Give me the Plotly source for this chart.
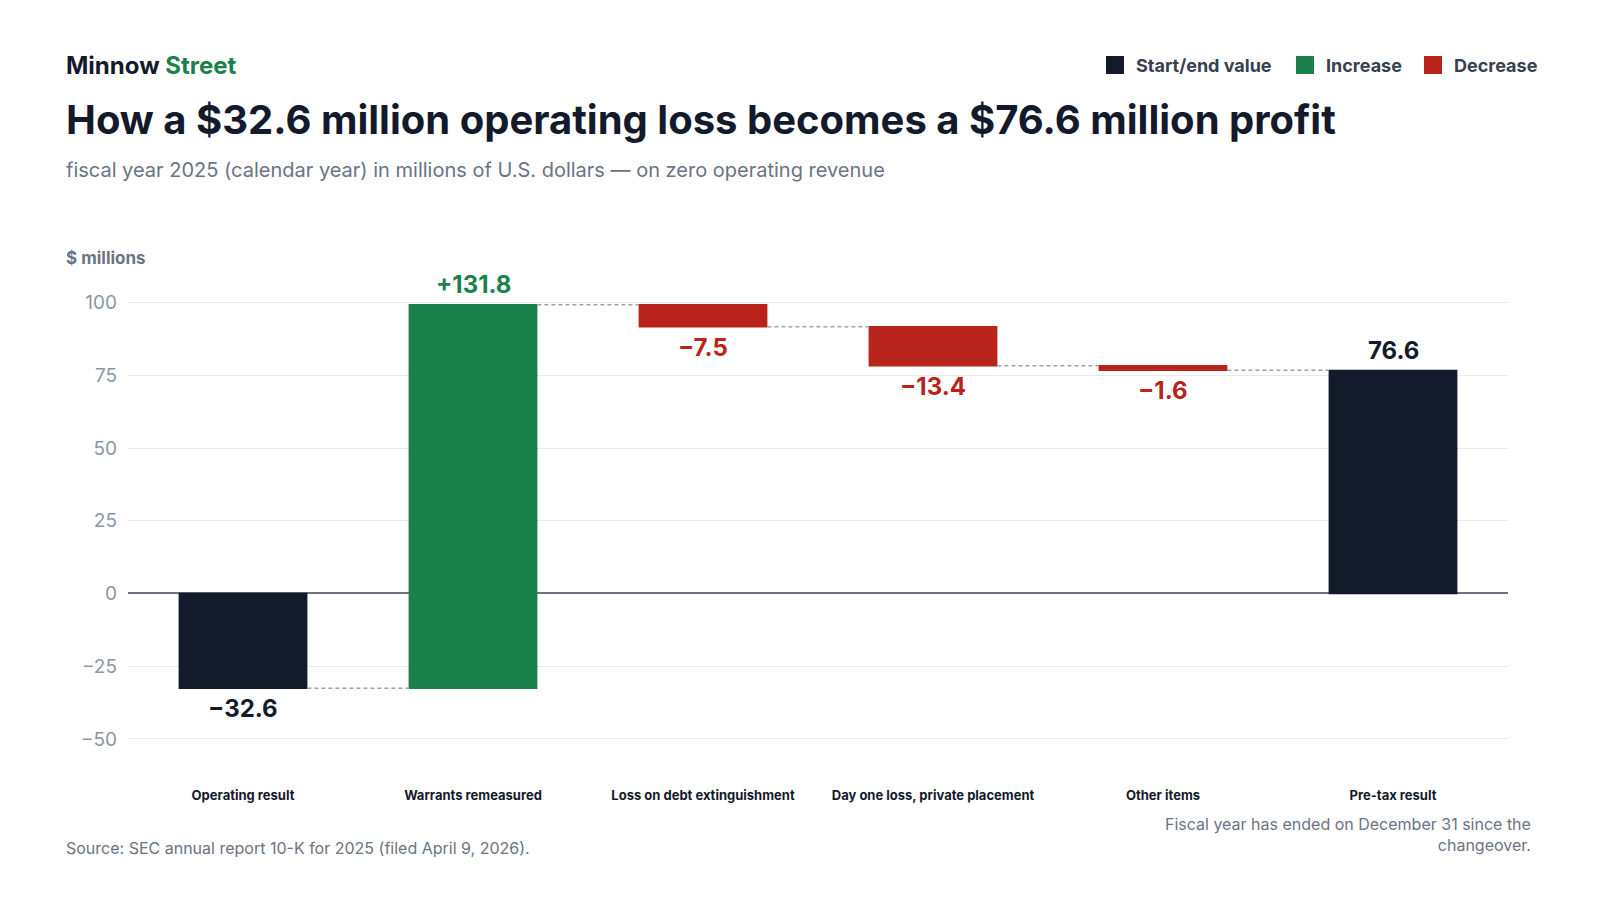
import plotly.graph_objects as go

categories = ["Operating result", "Warrants remeasured", "Loss on debt extinguishment",
              "Day one loss, private placement", "Other items", "Pre-tax result"]
values = [-32.6, 131.8, -7.5, -13.4, -1.6, 76.6]
measures = ["absolute", "relative", "relative", "relative", "relative", "absolute"]
labels = ["\u221232.6", "+131.8", "\u22127.5", "\u221213.4", "\u22121.6", "76.6"]

DARK, GREEN, RED = "#131a2b", "#1b804a", "#b8241c"
F = "Inter"

fig = go.Figure(go.Waterfall(
    x=categories, y=values, measure=measures, width=0.56,
    totals=dict(marker=dict(color=DARK)),
    increasing=dict(marker=dict(color=GREEN)),
    decreasing=dict(marker=dict(color=RED)),
    connector=dict(line=dict(color="#9aa3b2", width=1.5, dash="4px,3px")),
    hoverinfo="skip",
))

ann = []
run = 0
for c, v, m, t in zip(categories, values, measures, labels):
    if m == "absolute":
        start, end = 0, v
        run = v
        col = DARK
    else:
        start, end = run, run + v
        run = end
        col = GREEN if v > 0 else RED
    if (m == "absolute" and v >= 0) or (m == "relative" and v > 0):
        ann.append(dict(x=c, y=max(start, end), text=t, showarrow=False, yanchor="bottom", yshift=4,
                        font=dict(family=F, size=24, color=col, weight="bold")))
    else:
        ann.append(dict(x=c, y=min(start, end), text=t, showarrow=False, yanchor="top", yshift=-4,
                        font=dict(family=F, size=24, color=col, weight="bold")))

L, R, T, B = 120, 1500, 280, 760
def pa(x, y, text, size, color, xa="left", ya="middle", weight="normal", align="left"):
    ann.append(dict(xref="paper", yref="paper", x=x, y=y, text=text, showarrow=False, xanchor=xa,
                    yanchor=ya, align=align, font=dict(family=F, size=size, color=color, weight=weight)))

def px(x): return (x - L) / (R - L)
def py(y): return (B - y) / (B - T)

pa(px(56), py(57), "Minnow <span style='color:#1b804a'>Street</span>", 24, DARK, weight="bold")
pa(px(56), py(112), "How a $32.6 million operating loss becomes a $76.6 million profit", 40, DARK, weight="bold")
pa(px(56), py(162), "fiscal year 2025 (calendar year) in millions of U.S. dollars \u2014 on zero operating revenue", 20, "#6b7385")
pa(px(56), py(250), "$ millions", 17, "#6b7385", weight="bold")
pa(px(56), py(840), "Source: SEC annual report 10-K for 2025 (filed April 9, 2026).", 16, "#6b7385")
pa(px(1525), py(826), "Fiscal year has ended on December 31 since the<br>changeover.", 16, "#6b7385", xa="right", align="right")
for x, lab in [(1126, "Start/end value"), (1316, "Increase"), (1444, "Decrease")]:
    pa(px(x), py(57), lab, 18, "#374151", weight="bold")

shapes = []
for x0, col in [(1098, DARK), (1288, GREEN), (1416, RED)]:
    shapes.append(dict(type="rect", xref="paper", yref="paper", x0=px(x0), x1=px(x0 + 18),
                       y0=py(66), y1=py(48), fillcolor=col, line=dict(width=0)))

fig.update_layout(
    width=1600, height=900, plot_bgcolor="white", paper_bgcolor="white",
    margin=dict(l=L, r=1600 - R, t=T, b=900 - B), showlegend=False,
    annotations=ann, shapes=shapes,
    yaxis=dict(range=[-60, 105], tickvals=[-50, -25, 0, 25, 50, 75, 100],
               ticktext=["\u221250", "\u221225", "0", "25", "50", "75", "100"],
               gridcolor="#e8eaee", zeroline=True, zerolinecolor="#6b7385", zerolinewidth=1.5,
               tickfont=dict(family=F, size=19, color="#8d95a5"), ticks="", ticklabelstandoff=10),
    xaxis=dict(tickfont=dict(family=F, size=13, color=DARK, weight="bold"), ticks="",
               ticklabelstandoff=18),
    font=dict(family=F),
)
fig.write_html("out.html")
